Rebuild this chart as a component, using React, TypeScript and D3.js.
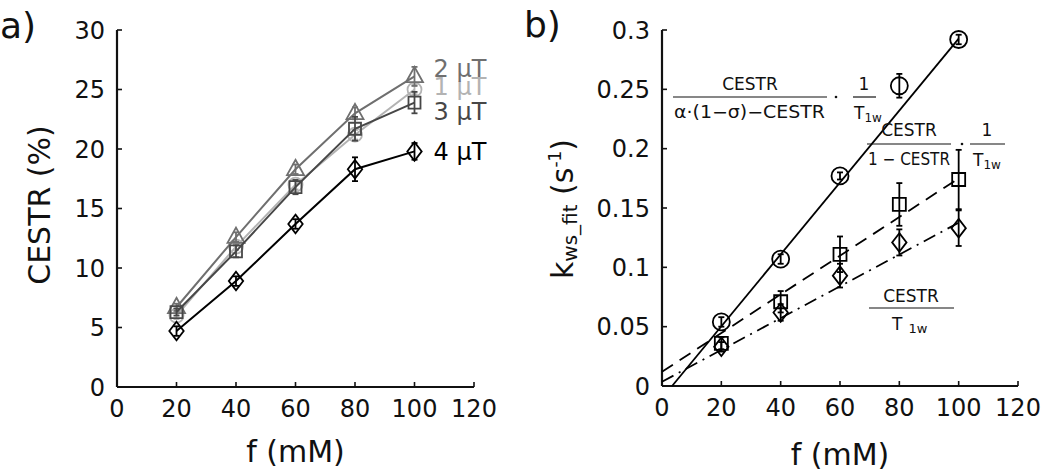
import { line, scaleLinear } from 'd3'

// ---- data ----
const fValues = [20, 40, 60, 80, 100]
const xTicks = [0, 20, 40, 60, 80, 100, 120]
const yTicksA = [0, 5, 10, 15, 20, 25, 30]
const yTicksB = [0, 0.05, 0.1, 0.15, 0.2, 0.25, 0.3]
const yTickLabelsB = ['0', '0.05', '0.1', '0.15', '0.2', '0.25', '0.3']

const labelsA = ['1 μT', '2 μT', '3 μT', '4 μT']
const cestr1 = [6.0, 11.8, 17.0, 21.2, 25.0]
const err1 = [0.3, 0.3, 0.4, 0.4, 0.4]
const cestr2 = [6.7, 12.6, 18.3, 23.0, 26.1]
const err2 = [0.3, 0.4, 0.4, 0.5, 0.8]
const cestr3 = [6.3, 11.4, 16.8, 21.7, 23.9]
const err3 = [0.3, 0.5, 0.6, 1.0, 0.9]
const cestr4 = [4.7, 8.9, 13.7, 18.3, 19.8]
const err4 = [0.4, 0.4, 0.4, 1.0, 0.7]

const kCircle = [0.054, 0.107, 0.177, 0.253, 0.292]
const errCircle = [0.004, 0.004, 0.003, 0.01, 0.004]
const kSquare = [0.036, 0.071, 0.111, 0.153, 0.174]
const errSquare = [0.005, 0.009, 0.015, 0.018, 0.025]
const kDiamond = [0.033, 0.062, 0.093, 0.121, 0.133]
const errDiamond = [0.004, 0.007, 0.01, 0.011, 0.015]

// linear fits [slope, intercept], drawn from f = 0 (or the zero crossing) to f = 100
const fitCircle = [0.00303, -0.0103]
const fitSquare = [0.00163, 0.012]
const fitDiamond = [0.00134, 0.0036]

const font = "'DejaVu Sans', sans-serif"

const xA = scaleLinear().domain([0, 120]).range([117, 474])
const yA = scaleLinear().domain([0, 30]).range([387, 30])
const xB = scaleLinear().domain([0, 120]).range([662, 1018])
const yB = scaleLinear().domain([0, 0.3]).range([386, 30])

type Shape = 'circle' | 'triangle' | 'square' | 'diamond'

const markerPath = (shape: Shape, s: number) => {
  if (shape === 'triangle') {
    const h = s * 0.9
    return `M0,${-h * 0.62}L${s / 2},${h * 0.38}L${-s / 2},${h * 0.38}Z`
  }
  if (shape === 'square') return `M${-s / 2},${-s / 2}h${s}v${s}h${-s}Z`
  if (shape === 'diamond') return `M0,${-s * 0.62}L${s * 0.48},0L0,${s * 0.62}L${-s * 0.48},0Z`
  const r = s / 2
  return `M${r},0A${r},${r} 0 1,1 ${-r},0A${r},${r} 0 1,1 ${r},0Z`
}

interface SeriesProps {
  xs: (v: number) => number
  ys: (v: number) => number
  values: number[]
  errors: number[]
  shape: Shape
  size: number
  color: string
  connect: boolean
}

const Series = ({ xs, ys, values, errors, shape, size, color, connect }: SeriesProps) => {
  const pts = fValues.map((f, i) => [xs(f), ys(values[i])] as [number, number])
  const path = line()(pts) ?? ''
  return (
    <g>
      {connect && <path d={path} fill="none" stroke={color} strokeWidth={2} />}
      {fValues.map((f, i) => {
        const x = xs(f)
        const top = ys(values[i] + errors[i])
        const bot = ys(values[i] - errors[i])
        return (
          <g key={f} stroke={color} strokeWidth={1.8} fill="none">
            <line x1={x} x2={x} y1={top} y2={bot} />
            <line x1={x - 3} x2={x + 3} y1={top} y2={top} />
            <line x1={x - 3} x2={x + 3} y1={bot} y2={bot} />
            <path d={markerPath(shape, size)} transform={`translate(${x},${ys(values[i])})`} />
          </g>
        )
      })}
    </g>
  )
}

interface AxesProps {
  xs: (v: number) => number
  ys: (v: number) => number
  yTicks: number[]
  yLabels: string[]
}

const Axes = ({ xs, ys, yTicks, yLabels }: AxesProps) => {
  const x0 = xs(0)
  const y0 = ys(0)
  return (
    <g fontFamily={font} fontSize={24} fill="#111">
      <line x1={x0} x2={xs(120)} y1={y0} y2={y0} stroke="#111" strokeWidth={2.2} />
      <line x1={x0} x2={x0} y1={y0} y2={ys(yTicks[yTicks.length - 1])} stroke="#111" strokeWidth={2.2} />
      {xTicks.map((t) => (
        <g key={t}>
          <line x1={xs(t)} x2={xs(t)} y1={y0} y2={y0 - 5} stroke="#111" strokeWidth={1.6} />
          <text x={xs(t)} y={y0 + 30} textAnchor="middle">{t}</text>
        </g>
      ))}
      {yTicks.map((t, i) => (
        <g key={t}>
          <line x1={x0} x2={x0 + 5} y1={ys(t)} y2={ys(t)} stroke="#111" strokeWidth={1.6} />
          <text x={x0 - 12} y={ys(t)} dy="0.36em" textAnchor="end">{yLabels[i]}</text>
        </g>
      ))}
    </g>
  )
}

const fitLine = (fit: number[], from: number) =>
  line()([from, 100].map((f) => [xB(f), yB(fit[0] * f + fit[1])] as [number, number])) ?? ''

const App = () => {
  const seriesA = [
    { values: cestr1, errors: err1, shape: 'circle' as Shape, size: 14, color: '#b3b3b3' },
    { values: cestr2, errors: err2, shape: 'triangle' as Shape, size: 17, color: '#6f6f6f' },
    { values: cestr3, errors: err3, shape: 'square' as Shape, size: 12, color: '#474747' },
    { values: cestr4, errors: err4, shape: 'diamond' as Shape, size: 15, color: '#000' },
  ]
  const legendY = [95, 77, 120, 160]

  return (
    <svg
      width={1050}
      height={473}
      viewBox="0 0 1050 473"
      style={{ position: 'absolute', left: 0, top: 0, background: '#fff' }}
    >
      {/* panel a */}
      <text x={0} y={38} fontFamily={font} fontSize={36} fill="#111">a)</text>
      <Axes xs={xA} ys={yA} yTicks={yTicksA} yLabels={yTicksA.map(String)} />
      {seriesA.map((s) => (
        <Series key={s.color} xs={xA} ys={yA} {...s} connect />
      ))}
      {seriesA.map((s, i) => (
        <text key={labelsA[i]} x={xA(100) + 19} y={legendY[i]} fontFamily={font} fontSize={24} fill={s.color}>
          {labelsA[i]}
        </text>
      ))}
      <text x={xA(60)} y={462} textAnchor="middle" fontFamily={font} fontSize={30} fill="#111">f (mM)</text>
      <text transform={`translate(50,${205}) rotate(-90)`} textAnchor="middle" fontFamily={font} fontSize={30} fill="#111">
        CESTR (%)
      </text>

      {/* panel b */}
      <text x={524} y={37} fontFamily={font} fontSize={36} fill="#111">b)</text>
      <Axes xs={xB} ys={yB} yTicks={yTicksB} yLabels={yTickLabelsB} />
      <path d={fitLine(fitCircle, -fitCircle[1] / fitCircle[0])} fill="none" stroke="#000" strokeWidth={1.8} />
      <path d={fitLine(fitSquare, 0)} fill="none" stroke="#000" strokeWidth={1.8} strokeDasharray="13 8" />
      <path d={fitLine(fitDiamond, 0)} fill="none" stroke="#000" strokeWidth={1.8} strokeDasharray="13 6 2 6" />
      <Series xs={xB} ys={yB} values={kCircle} errors={errCircle} shape="circle" size={17} color="#000" connect={false} />
      <Series xs={xB} ys={yB} values={kSquare} errors={errSquare} shape="square" size={13} color="#000" connect={false} />
      <Series xs={xB} ys={yB} values={kDiamond} errors={errDiamond} shape="diamond" size={15} color="#000" connect={false} />
      <text x={xB(60)} y={465} textAnchor="middle" fontFamily={font} fontSize={30} fill="#111">f (mM)</text>
      <text transform={`translate(573,${209}) rotate(-90)`} textAnchor="middle" fontFamily={font} fill="#111">
        <tspan fontSize={30}>k</tspan>
        <tspan fontSize={20} dy={4}>ws_fit</tspan>
        <tspan fontSize={30} dy={-4}> (s</tspan>
        <tspan fontSize={17} dy={-12}>-1</tspan>
        <tspan fontSize={30} dy={12}>)</tspan>
      </text>

      {/* formula annotations */}
      <g fontFamily={font} fontSize={17} fill="#111">
        <text x={750} y={90} textAnchor="middle">CESTR</text>
        <line x1={673} x2={827} y1={97} y2={97} stroke="#111" strokeWidth={1.2} />
        <text x={674} y={118} textLength={151} lengthAdjust="spacingAndGlyphs">α·(1−σ)−CESTR</text>
        <circle cx={836} cy={97} r={1.3} />
        <text x={864} y={90} textAnchor="middle">1</text>
        <line x1={853} x2={876} y1={97} y2={97} stroke="#111" strokeWidth={1.2} />
        <text x={854} y={119}>T<tspan fontSize={12} dy={3}>1w</tspan></text>

        <text x={909} y={136} textAnchor="middle">CESTR</text>
        <line x1={867} x2={951} y1={144} y2={144} stroke="#111" strokeWidth={1.2} />
        <text x={868} y={165} textLength={82} lengthAdjust="spacingAndGlyphs">1 − CESTR</text>
        <circle cx={962} cy={144} r={1.3} />
        <text x={987} y={136} textAnchor="middle">1</text>
        <line x1={970} x2={1005} y1={144} y2={144} stroke="#111" strokeWidth={1.2} />
        <text x={973} y={166}>T<tspan fontSize={12} dy={3}>1w</tspan></text>

        <text x={911} y={302} textAnchor="middle">CESTR</text>
        <line x1={869} x2={954} y1={308} y2={308} stroke="#111" strokeWidth={1.2} />
        <text x={892} y={330}>T<tspan fontSize={13} dx={6} dy={3}>1w</tspan></text>
      </g>
    </svg>
  )
}

export default App
